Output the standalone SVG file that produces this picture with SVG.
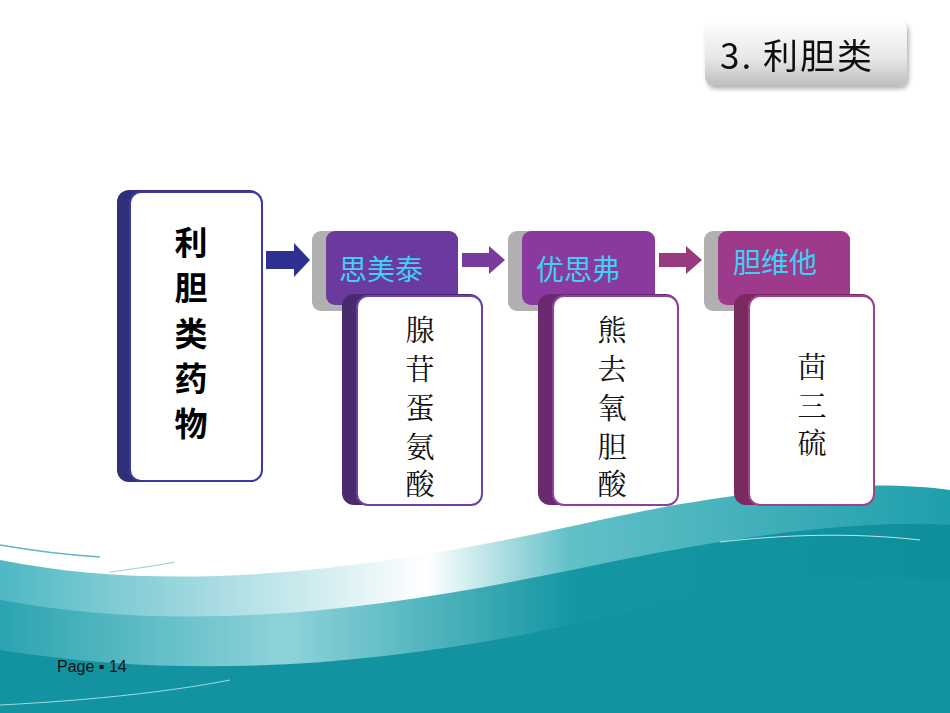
<svg xmlns="http://www.w3.org/2000/svg" width="950" height="713" viewBox="0 0 950 713">
<defs>
<linearGradient id="title" x1="0" y1="0" x2="0" y2="1"><stop offset="0" stop-color="#ffffff"/><stop offset="0.6" stop-color="#e6e6e6"/><stop offset="1" stop-color="#bdbdbd"/></linearGradient>
<linearGradient id="wave1" x1="0" y1="0" x2="1" y2="0"><stop offset="0" stop-color="#4fb8c4"/><stop offset="0.45" stop-color="#ffffff"/><stop offset="0.6" stop-color="#62c0c8"/><stop offset="1" stop-color="#1f9fab"/></linearGradient>
<linearGradient id="wave2" x1="0" y1="0" x2="1" y2="0"><stop offset="0" stop-color="#2aa4b0"/><stop offset="0.3" stop-color="#8fd3da"/><stop offset="0.6" stop-color="#1597a3"/><stop offset="1" stop-color="#0f8f9c"/></linearGradient>
<filter id="sh" x="-10%" y="-10%" width="130%" height="130%"><feDropShadow dx="2" dy="3" stdDeviation="2" flood-color="#000" flood-opacity="0.3"/></filter>
</defs>
<style>
.cn{font-family:"Noto Sans CJK SC","Noto Sans",sans-serif}
.hd{font-size:28px;fill:#3fd0f5;font-family:"Noto Sans CJK SC",sans-serif}
.dt{font-size:29px;fill:#111;font-family:"Noto Serif CJK SC","Noto Sans CJK SC",serif;text-anchor:middle}
.front{fill:#fff;stroke-width:2}
</style>
<rect width="950" height="713" fill="#fff"/>
<g id="waves">
<path d="M0 560 C200 600 420 560 600 520 C760 485 880 480 950 490 L950 713 L0 713 Z" fill="url(#wave1)"/>
<path d="M0 600 C220 640 430 600 620 560 C770 530 880 520 950 525 L950 713 L0 713 Z" fill="url(#wave2)"/>
<path d="M0 650 C250 690 480 650 680 600 C800 575 900 575 950 580 L950 713 L0 713 Z" fill="#12939f"/>
<path d="M0 545 C40 552 70 555 100 557" stroke="#5cb9c3" stroke-width="1.5" fill="none"/>
<path d="M110 572 C140 568 160 565 175 562" stroke="#8fd0d6" stroke-width="1" fill="none"/>
<path d="M720 542 C780 535 850 532 920 540" stroke="#bfe6ea" stroke-width="1" fill="none"/>
<path d="M0 705 C100 700 180 690 230 680" stroke="#9fdbe0" stroke-width="1" fill="none"/>
</g>
<g id="title-node" filter="url(#sh)">
<rect x="705" y="20" width="202" height="66" rx="9" fill="url(#title)"/>
<text x="720" y="69" class="cn" font-size="35" fill="#111" letter-spacing="2">3. 利胆类</text>
</g>
<g id="main">
<rect x="117" y="190" width="145" height="292" rx="12" fill="#2f2f7a"/>
<rect x="130" y="192" width="132" height="289" rx="11" class="front" stroke="#3a3aa0"/>
<g class="cn" font-size="33" font-weight="bold" text-anchor="middle" fill="#000">
<text x="191" y="255">利</text><text x="191" y="300">胆</text><text x="191" y="346">类</text><text x="191" y="391">药</text><text x="191" y="436">物</text>
</g>
</g>
<g id="connectors">
<path d="M266 251 H294 V243 L310 260 L294 277 V269 H266 Z" fill="#2e3192"/>
<path d="M462 253 H489 V246 L505 260 L489 274 V267 H462 Z" fill="#7a3a9e"/>
<path d="M659 253 H686 V246 L702 260 L686 274 V267 H659 Z" fill="#9a3a7e"/>
</g>
<g id="n1">
<rect x="312" y="231" width="146" height="80" rx="9" fill="#b0b0b0"/>
<rect x="326" y="231" width="132" height="74" rx="9" fill="#6b3a9f"/>
<text x="339" y="280" class="hd">思美泰</text>
<rect x="342" y="294" width="140" height="211" rx="12" fill="#4a2a6e"/>
<rect x="357" y="296" width="125" height="209" rx="11" class="front" stroke="#7040a8"/>
<g class="dt"><text x="420" y="341">腺</text><text x="420" y="380">苷</text><text x="420" y="419">蛋</text><text x="420" y="458">氨</text><text x="420" y="495">酸</text></g>
</g>
<g id="n2">
<rect x="508" y="231" width="147" height="80" rx="9" fill="#b0b0b0"/>
<rect x="522" y="231" width="133" height="74" rx="9" fill="#8a3a9e"/>
<text x="536" y="280" class="hd">优思弗</text>
<rect x="538" y="294" width="140" height="211" rx="12" fill="#6a2a70"/>
<rect x="553" y="296" width="125" height="209" rx="11" class="front" stroke="#8e40a0"/>
<g class="dt"><text x="612" y="341">熊</text><text x="612" y="380">去</text><text x="612" y="419">氧</text><text x="612" y="458">胆</text><text x="612" y="495">酸</text></g>
</g>
<g id="n3">
<rect x="704" y="231" width="146" height="80" rx="9" fill="#b0b0b0"/>
<rect x="718" y="231" width="132" height="74" rx="9" fill="#9e3a8c"/>
<text x="733" y="273" class="hd">胆维他</text>
<rect x="734" y="294" width="140" height="211" rx="12" fill="#7a2a5e"/>
<rect x="749" y="296" width="125" height="209" rx="11" class="front" stroke="#a04090"/>
<g class="dt"><text x="812" y="378">茴</text><text x="812" y="417">三</text><text x="812" y="454">硫</text></g>
</g>
<text x="57" y="672" font-family="Liberation Sans,Arial,sans-serif" font-size="16" fill="#111">Page ▪ 14</text>
</svg>
